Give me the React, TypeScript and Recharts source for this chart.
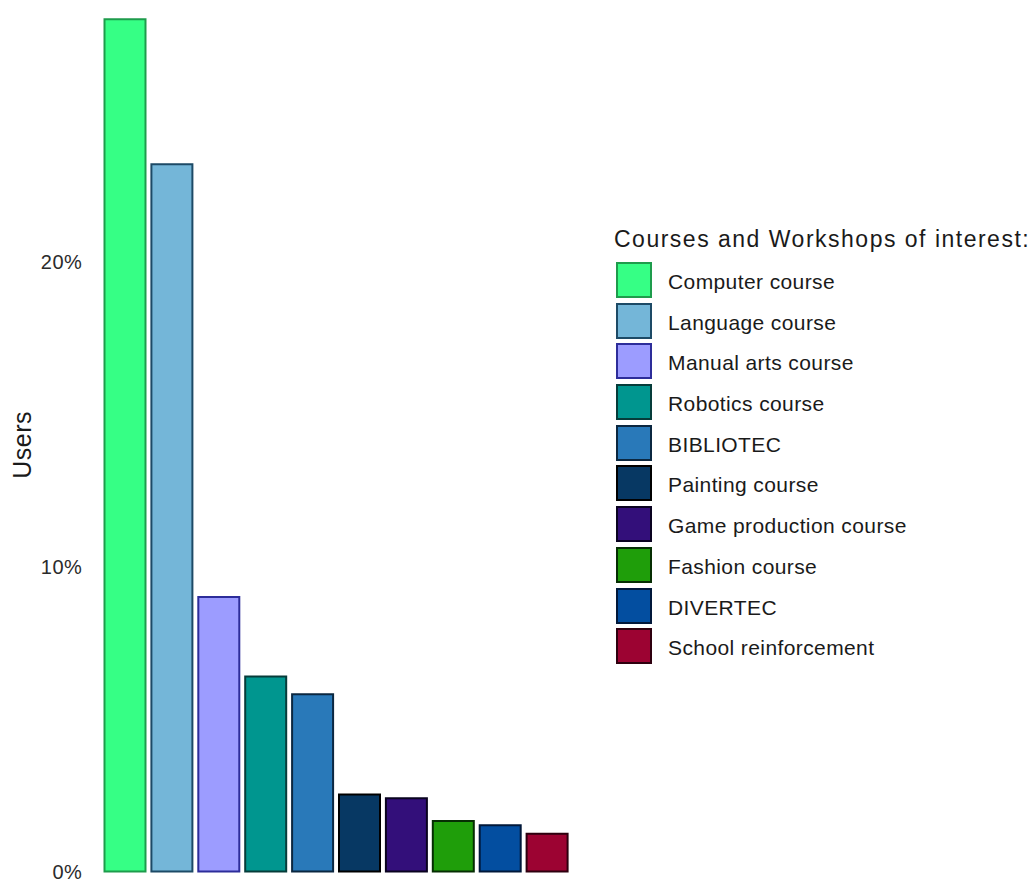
import React from 'react';
import { BarChart, Bar, Cell, XAxis, YAxis, Legend } from 'recharts';

const courses = [
  'Computer course',
  'Language course',
  'Manual arts course',
  'Robotics course',
  'BIBLIOTEC',
  'Painting course',
  'Game production course',
  'Fashion course',
  'DIVERTEC',
  'School reinforcement',
];

// share of users interested in each course (fraction of 1)
const shares = [0.2797, 0.2321, 0.0901, 0.064, 0.0582, 0.0253, 0.024, 0.0166, 0.0152, 0.0124];

const fills = ['#36FF85', '#74B6D8', '#9C9CFF', '#00968F', '#2979B9', '#073863', '#330F7A', '#1F9E0A', '#034EA0', '#9C0332'];
const strokes = ['#1E9C4C', '#1D4A66', '#2D2D9A', '#063C3A', '#0B2740', '#000000', '#0A0320', '#062E03', '#01183A', '#2E000F'];

const yTicks = [0, 0.1, 0.2];

const FONT = '"Liberation Sans", Arial, sans-serif';

const data = courses.map((name, i) => ({ name, value: shares[i] }));

function CourseLegend() {
  return (
    <div style={{ fontFamily: FONT, color: '#1a1a1a' }}>
      <div style={{ fontSize: 23, lineHeight: '28px', letterSpacing: 1.5, height: 28, marginBottom: 9, whiteSpace: 'nowrap' }}>
        Courses and Workshops of interest:
      </div>
      {courses.map((name, i) => (
        <div key={name} style={{ display: 'flex', alignItems: 'center', height: 36, marginBottom: 4.7 }}>
          <div
            style={{
              width: 36,
              height: 36,
              marginLeft: 2,
              boxSizing: 'border-box',
              background: fills[i],
              border: `2px solid ${strokes[i]}`,
            }}
          />
          <span style={{ marginLeft: 16, fontSize: 21, letterSpacing: 0.4, paddingTop: 4, whiteSpace: 'nowrap' }}>{name}</span>
        </div>
      ))}
    </div>
  );
}

export default function App() {
  return (
    <div style={{ position: 'absolute', top: 0, left: 0, width: 1030, height: 882, background: '#fff' }}>
      <BarChart
        width={1030}
        height={882}
        data={data}
        margin={{ top: 18.3, right: 459.5, bottom: 10.5, left: 0 }}
        barCategoryGap={3}
      >
        <XAxis dataKey="name" hide />
        <YAxis
          width={101.5}
          domain={[0, 0.28]}
          ticks={yTicks}
          interval={0}
          tickFormatter={(v: number) => `${Math.round(v * 100)}%`}
          axisLine={false}
          tickLine={false}
          tickSize={0}
          tickMargin={19}
          tick={{ fontSize: 20, fill: '#2b2b2b', fontFamily: FONT, letterSpacing: 0.6 }}
          label={{
            value: 'Users',
            content: ({ viewBox }: any) => {
              const cx = viewBox.x + 22;
              const cy = viewBox.y + viewBox.height / 2;
              return (
                <text
                  x={cx}
                  y={cy}
                  transform={`rotate(-90, ${cx}, ${cy})`}
                  textAnchor="middle"
                  dominantBaseline="central"
                  fontSize={25}
                  letterSpacing={0.5}
                  fontFamily={FONT}
                  fill="#1a1a1a"
                >
                  Users
                </text>
              );
            },
          }}
        />
        <Legend
          layout="vertical"
          align="center"
          verticalAlign="middle"
          content={() => <CourseLegend />}
          wrapperStyle={{ left: 614, top: 225, width: 416 }}
        />
        <Bar dataKey="value" isAnimationActive={false} strokeWidth={2}>
          {data.map((d, i) => (
            <Cell key={d.name} fill={fills[i]} stroke={strokes[i]} />
          ))}
        </Bar>
      </BarChart>
    </div>
  );
}
